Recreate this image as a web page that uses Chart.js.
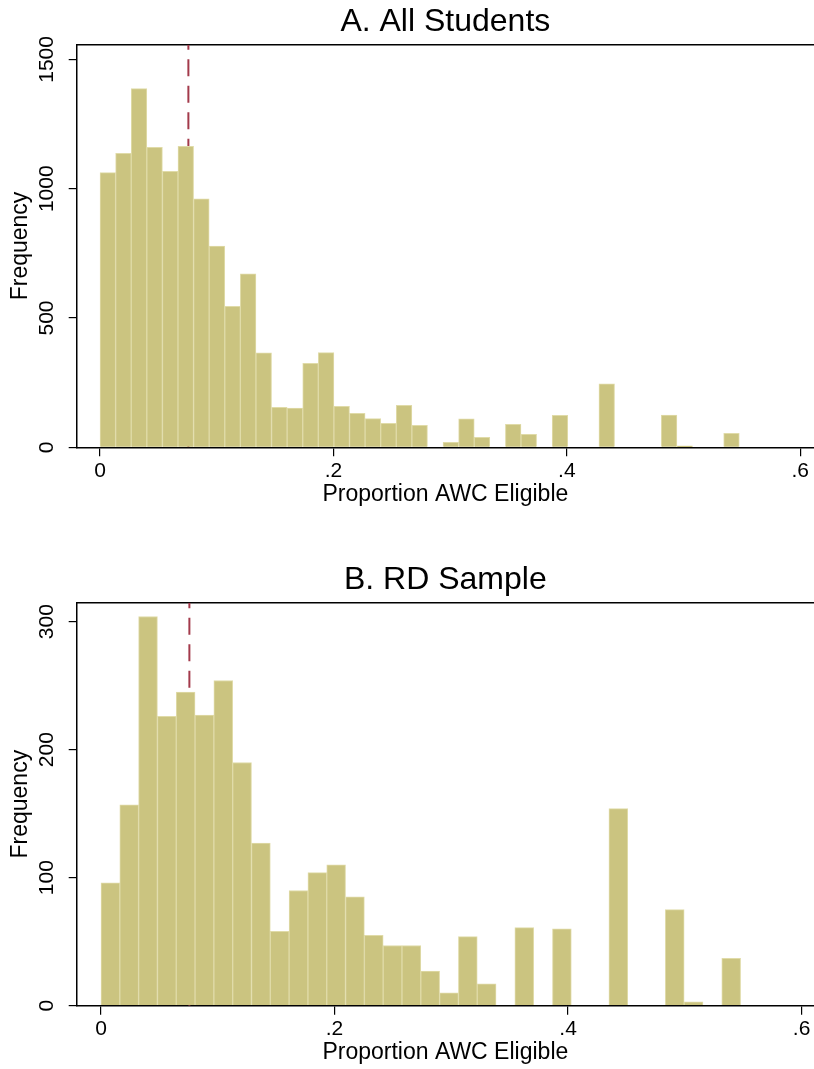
<!DOCTYPE html>
<html>
<head>
<meta charset="utf-8">
<script src="https://cdn.jsdelivr.net/npm/chart.js@4.4.1/dist/chart.umd.min.js"></script>
<style>
  html, body { margin: 0; padding: 0; background: #fff; overflow: hidden; }
  canvas { position: absolute; left: 0; }
  #panelA { top: 0; }
  #panelB { top: 558px; }
</style>
</head>
<body>
<canvas id="panelA" width="814" height="530"></canvas>
<canvas id="panelB" width="814" height="511"></canvas>
<script>
// Panel A: all students, 41 bins
const countsA = [1062, 1137, 1387, 1160, 1067, 1164, 961, 778, 545, 671, 365, 155, 152, 325, 366, 158, 131, 111, 93, 162, 85,
                 0, 19, 110, 39, 0, 89, 50, 0, 124, 0, 0, 245, 0, 0, 0, 125, 6, 0, 0, 54];
const binWidthA = 0.01336;
const yTicksA = [0, 500, 1000, 1500];

// Panel B: RD sample, 34 bins
const countsB = [96, 157, 304, 226, 245, 227, 254, 190, 127, 58, 90, 104, 110, 85, 55, 47, 47, 27, 10, 54, 17,
                 0, 61, 0, 60, 0, 0, 154, 0, 0, 75, 3, 0, 37];
const binWidthB = 0.01611;
const yTicksB = [0, 100, 200, 300];

const xTicks = [0, 0.2, 0.4, 0.6];
const cutoff = 0.0757;

const FONT = '"Liberation Sans", Arial, Helvetica, sans-serif';

// draws the panel heading centred over the plot region
const panelTitle = {
    id: 'panelTitle',
    afterDraw(chart, args, opts) {
        const { ctx, chartArea } = chart;
        ctx.save();
        ctx.font = '32px ' + FONT;
        ctx.fillStyle = '#000';
        ctx.textAlign = 'center';
        ctx.textBaseline = 'alphabetic';
        ctx.fillText(opts.text, (chartArea.left + chartArea.right) / 2, chartArea.top - opts.gap);
        ctx.restore();
    }
};

function makePanel(id, cfg) {
    const bars = cfg.counts.map((c, i) => ({ x: (i + 0.5) * cfg.binWidth, y: c }));
    const yTop = cfg.yMax;

    return new Chart(document.getElementById(id).getContext('2d'), {
        type: 'bar',
        data: {
            datasets: [
                {
                    type: 'bar',
                    data: bars,
                    backgroundColor: 'rgb(203, 196, 128)',
                    borderColor: 'rgb(224, 219, 168)',
                    borderWidth: 1,
                    borderSkipped: 'start',
                    barPercentage: 1,
                    categoryPercentage: 1,
                    order: 1
                },
                {
                    type: 'line',
                    data: [{ x: cutoff, y: 0 }, { x: cutoff, y: yTop }],
                    borderColor: '#a33a4b',
                    borderWidth: 2,
                    borderDash: [17, 9.5],
                    pointRadius: 0,
                    fill: false,
                    order: 2
                }
            ]
        },
        plugins: [panelTitle],
        options: {
            responsive: false,
            animation: false,
            layout: { padding: { top: 44.7, left: 0, right: 0, bottom: 0 } },
            plugins: {
                legend: { display: false },
                tooltip: { enabled: false },
                panelTitle: { text: cfg.title, gap: 13.5 }
            },
            scales: {
                x: {
                    type: 'linear',
                    position: 'bottom',
                    min: cfg.xMin,
                    max: cfg.xMax,
                    offset: false,
                    afterBuildTicks: s => { s.ticks = xTicks.map(v => ({ value: v })); },
                    afterFit: s => { s.height = cfg.xHeight; },
                    grid: { display: true, drawOnChartArea: false, drawTicks: true, tickLength: 9, color: '#000', lineWidth: 1.2, offset: false },
                    border: { display: true, color: '#000', width: 1.5 },
                    ticks: {
                        color: '#000',
                        padding: 2.1,
                        font: { family: FONT, size: 21 },
                        callback: v => v === 0 ? '0' : String(v).replace(/^0/, '')
                    },
                    title: {
                        display: true,
                        text: 'Proportion AWC Eligible',
                        color: '#000',
                        font: { family: FONT, size: 23 },
                        padding: { top: 0, bottom: cfg.xTitlePad }
                    }
                },
                x2: {
                    type: 'linear',
                    position: 'top',
                    min: cfg.xMin,
                    max: cfg.xMax,
                    afterFit: s => { s.height = 0; },
                    grid: { display: false },
                    ticks: { display: false },
                    border: { display: true, color: '#000', width: 1.5 }
                },
                y: {
                    type: 'linear',
                    position: 'left',
                    min: 0,
                    max: yTop,
                    afterBuildTicks: s => { s.ticks = cfg.yTicks.map(v => ({ value: v })); },
                    afterFit: s => { s.width = 76.7; },
                    grid: { display: true, drawOnChartArea: false, drawTicks: true, tickLength: 8, color: '#000', lineWidth: 1.2 },
                    border: { display: true, color: '#000', width: 1.5 },
                    ticks: {
                        color: '#000',
                        minRotation: 90,
                        maxRotation: 90,
                        crossAlign: 'center',
                        padding: cfg.yTickPad,
                        font: { family: FONT, size: 21 },
                        callback: v => String(v)
                    },
                    title: {
                        display: true,
                        text: 'Frequency',
                        color: '#000',
                        font: { family: FONT, size: 23 },
                        padding: { top: 7.2, bottom: 0 }
                    }
                }
            }
        }
    });
}

makePanel('panelA', {
    title: 'A. All Students',
    counts: countsA,
    binWidth: binWidthA,
    yTicks: yTicksA,
    yMax: 1557,
    xMin: -0.02,
    xMax: 0.6118,
    xHeight: 82.7,
    xTitlePad: 21.2,
    yTickPad: -2.2
});

makePanel('panelB', {
    title: 'B. RD Sample',
    counts: countsB,
    binWidth: binWidthB,
    yTicks: yTicksB,
    yMax: 314.8,
    xMin: -0.0208,
    xMax: 0.6106,
    xHeight: 63.3,
    xTitlePad: 2.2,
    yTickPad: 3.7
});
</script>
</body>
</html>
